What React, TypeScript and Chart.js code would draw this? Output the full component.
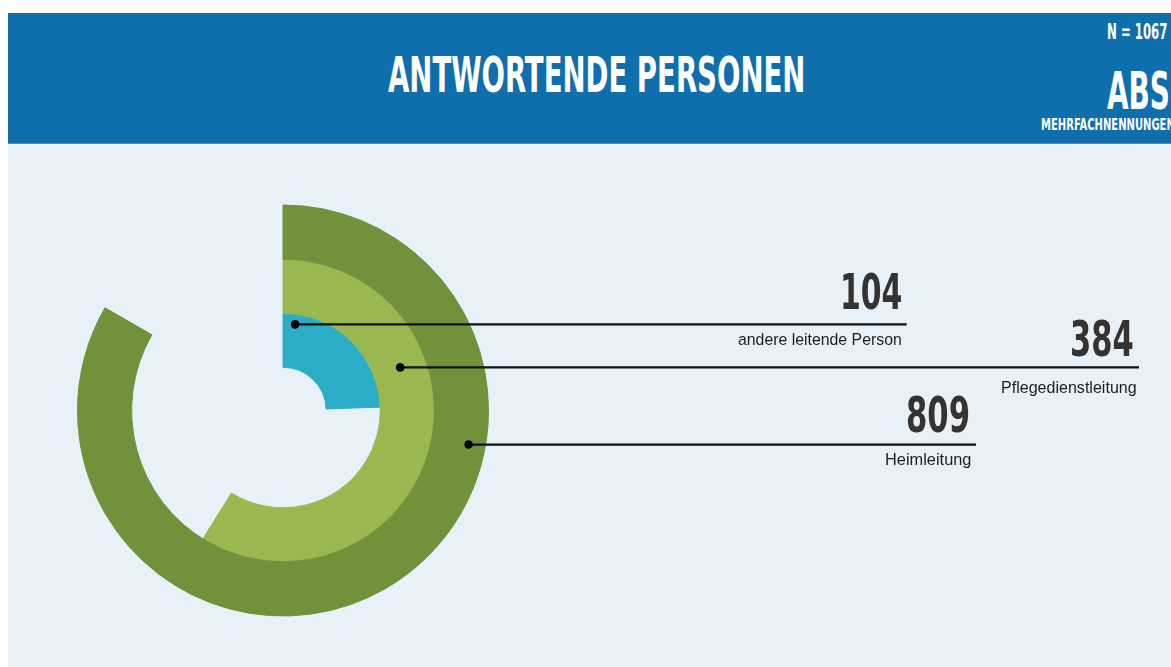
import React, { useEffect, useLayoutEffect, useRef } from "react";
import { Chart, registerables } from "chart.js";

Chart.register(...registerables);

// ---------- data ----------
const title = "ANTWORTENDE PERSONEN";
const sampleSize = 1067;
const unitLabel = "ABS";
const noteLabel = "MEHRFACHNENNUNGEN";
const categories = ["Heimleitung", "Pflegedienstleitung", "andere leitende Person"];
const values = [809, 384, 104];
// sweep of each ring (degrees, clockwise from 12 o'clock) as drawn in the source infographic
const ringSweepDeg = [300, 212, 88];

// ---------- styles ----------
const ringColors = ["#71913b", "#99b950", "#2badc8"];
const CONDENSED = '"Liberation Sans Narrow", "DejaVu Sans Condensed", "Roboto Condensed", sans-serif';
const SANS = '"Liberation Sans", Arial, sans-serif';
const OX = 8;
const OY = 13;

type Box = { l: number; t: number; r: number; b: number };

function FitText({ text, family, weight, color, box }: { text: string; family: string; weight: string; color: string; box: Box }) {
  const ref = useRef<HTMLDivElement>(null);
  useLayoutEffect(() => {
    const el = ref.current;
    if (!el) return;
    const ctx = document.createElement("canvas").getContext("2d")!;
    ctx.font = `${weight} 100px ${family}`;
    const m0 = ctx.measureText(text);
    const fs = ((box.b - box.t) / m0.actualBoundingBoxAscent) * 100;
    ctx.font = `${weight} ${fs}px ${family}`;
    const m = ctx.measureText(text);
    const ink = m.actualBoundingBoxLeft + m.actualBoundingBoxRight;
    const sx = (box.r - box.l) / ink;
    const fa = m.fontBoundingBoxAscent;
    const fd = m.fontBoundingBoxDescent;
    const baseOff = (fs - fa - fd) / 2 + fa;
    el.style.font = `${weight} ${fs}px ${family}`;
    el.style.lineHeight = `${fs}px`;
    el.style.top = `${box.b - baseOff - OY}px`;
    el.style.left = `${box.l + m.actualBoundingBoxLeft * sx - OX}px`;
    el.style.transform = `scaleX(${sx})`;
  }, [text, family, weight, box.l, box.t, box.r, box.b]);
  return (
    <div
      ref={ref}
      style={{ position: "absolute", whiteSpace: "nowrap", color, transformOrigin: "0 0", margin: 0, padding: 0 }}
    >
      {text}
    </div>
  );
}

// leader lines: ring index, angle of the dot (deg clockwise from top), radial position inside ring, line end x (canvas px)
const leaders = [
  { ring: 2, angleDeg: 8, frac: 0.81, endX: 898.7 },
  { ring: 1, angleDeg: 69.8, frac: 0.51, endX: 1131 },
  { ring: 0, angleDeg: 100.4, frac: 0.69, endX: 968 },
];

function RingChart() {
  const ref = useRef<HTMLCanvasElement>(null);
  useEffect(() => {
    const leaderPlugin = {
      id: "leaders",
      afterDatasetsDraw(chart: any) {
        const ctx = chart.ctx as CanvasRenderingContext2D;
        ctx.save();
        leaders.forEach((ld) => {
          const arc = chart.getDatasetMeta(ld.ring).data[0];
          const { x, y, innerRadius, outerRadius } = arc.getProps(["x", "y", "innerRadius", "outerRadius"], true);
          const r = innerRadius + (outerRadius - innerRadius) * ld.frac;
          const a = (ld.angleDeg * Math.PI) / 180;
          const px = x + r * Math.sin(a);
          const py = y - r * Math.cos(a);
          ctx.strokeStyle = "#111";
          ctx.lineWidth = 2.2;
          ctx.beginPath();
          ctx.moveTo(px, py);
          ctx.lineTo(ld.endX, py);
          ctx.stroke();
          ctx.fillStyle = "#000";
          ctx.beginPath();
          ctx.arc(px, py, 4.3, 0, Math.PI * 2);
          ctx.fill();
        });
        ctx.restore();
      },
    };
    const chart = new Chart(ref.current!, {
      type: "doughnut",
      data: {
        labels: ["Anteil", "Rest"],
        datasets: values.map((v, i) => ({
          label: `${categories[i]} (${v})`,
          data: [ringSweepDeg[i], 360 - ringSweepDeg[i]],
          backgroundColor: [ringColors[i], "rgba(0,0,0,0)"],
          borderColor: [ringColors[i], "rgba(0,0,0,0)"],
          borderWidth: [1, 0],
          hoverOffset: 0,
        })),
      },
      options: {
        responsive: false,
        animation: false,
        events: [],
        cutout: "21%",
        layout: { padding: { left: 69, top: 61.5, right: 682, bottom: 50.5 } },
        plugins: { legend: { display: false }, tooltip: { enabled: false } },
      } as any,
      plugins: [leaderPlugin],
    });
    return () => chart.destroy();
  }, []);
  return (
    <canvas
      ref={ref}
      width={1163}
      height={524}
      style={{ position: "absolute", left: 0, top: 130, display: "block" }}
    />
  );
}

const valueBoxes: Box[] = [
  { l: 907.3, t: 395, r: 968.3, b: 432.7 },
  { l: 1071, t: 320, r: 1132.3, b: 356.7 },
  { l: 843.3, t: 273, r: 901, b: 310 },
];
const labelBoxes: Box[] = [
  { l: 886, t: 453, r: 970.5, b: 464.7 },
  { l: 1001.7, t: 380.3, r: 1136, b: 392.7 },
  { l: 738.3, t: 334, r: 901.7, b: 346.3 },
];

export default function App() {
  return (
    <div
      style={{
        position: "absolute",
        left: OX,
        top: OY,
        width: 1163,
        height: 654,
        overflow: "hidden",
        background: "#e9f1f8",
      }}
    >
      <div style={{ position: "absolute", left: 0, top: 0, width: 1163, height: 130, background: "#0f6eac" }} />
      <div style={{ position: "absolute", left: 0, top: 130, width: 1163, height: 1, background: "#4a92c3" }} />
      <RingChart />
      <FitText text={title} family={CONDENSED} weight="bold" color="#ffffff" box={{ l: 388, t: 55, r: 803, b: 92.7 }} />
      <FitText text={`N = ${sampleSize}`} family={CONDENSED} weight="bold" color="#ffffff" box={{ l: 1108, t: 23.3, r: 1167, b: 39.3 }} />
      <FitText text={unitLabel} family={CONDENSED} weight="bold" color="#ffffff" box={{ l: 1107, t: 71, r: 1168, b: 109.5 }} />
      <FitText text={noteLabel} family={CONDENSED} weight="bold" color="#ffffff" box={{ l: 1041.7, t: 118.3, r: 1174, b: 130.5 }} />
      {values.map((v, i) => (
        <FitText key={`v${i}`} text={String(v)} family={CONDENSED} weight="bold" color="#333333" box={valueBoxes[i]} />
      ))}
      {categories.map((c, i) => (
        <FitText key={`c${i}`} text={c} family={SANS} weight="normal" color="#1e1e1e" box={labelBoxes[i]} />
      ))}
    </div>
  );
}
